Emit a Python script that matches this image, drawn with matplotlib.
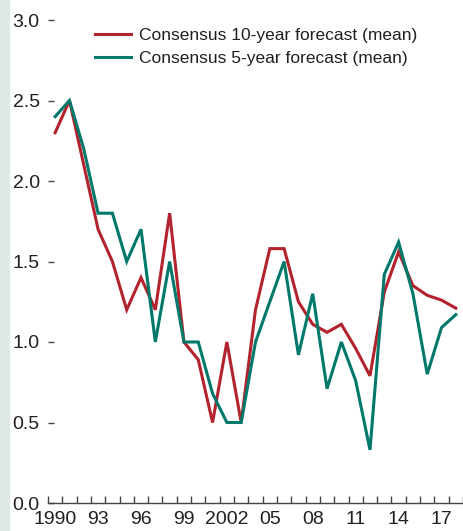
import numpy as np
import matplotlib.pyplot as plt
from matplotlib.patches import Rectangle

# Consensus forecasts
years = np.arange(1990, 2019)
ten_year = [2.3, 2.5, 2.1, 1.7, 1.5, 1.2, 1.4, 1.2, 1.8, 1.0,
            0.89, 0.5, 1.0, 0.5, 1.2, 1.58, 1.58, 1.25, 1.11, 1.06,
            1.11, 0.96, 0.79, 1.31, 1.56, 1.35, 1.29, 1.26, 1.21]
five_year = [2.4, 2.5, 2.2, 1.8, 1.8, 1.5, 1.7, 1.0, 1.5, 1.0,
             1.0, 0.68, 0.5, 0.5, 1.0, 1.25, 1.5, 0.92, 1.3, 0.71,
             1.0, 0.76, 0.33, 1.42, 1.62, 1.3, 0.8, 1.09, 1.17]
label_years = [1990, 1993, 1996, 1999, 2002, 2005, 2008, 2011, 2014, 2017]
label_text = ["1990", "93", "96", "99", "2002", "05", "08", "11", "14", "17"]
y_ticks = [0.0, 0.5, 1.0, 1.5, 2.0, 2.5, 3.0]

red = "#b3232d"
green = "#00786a"
ink = "#231f20"

plt.rcParams["font.family"] = ["Liberation Sans Narrow", "Liberation Sans", "DejaVu Sans"]

W, H = 463, 531
fig = plt.figure(figsize=(W / 100, H / 100), dpi=100)
fig.patches.append(Rectangle((0, 0), 9 / W, 1, transform=fig.transFigure,
                             color="#dfe9e8", zorder=0))
ax = fig.add_axes([48 / W, 28 / H, (W - 48) / W + 0.01, 483 / H])
ax.patch.set_alpha(0)

ax.plot(years, ten_year, color=red, lw=2.2, label="Consensus 10-year forecast (mean)",
        solid_joinstyle="miter")
ax.plot(years, five_year, color=green, lw=2.2, label="Consensus 5-year forecast (mean)",
        solid_joinstyle="miter")

ax.set_xlim(1989.5, 2018.5 + 0.01 * 29 / ((W - 48) / W))
ax.set_ylim(0, 3.0)

for s in ["top", "right", "left"]:
    ax.spines[s].set_visible(False)
ax.spines["bottom"].set_color("#444444")
ax.spines["bottom"].set_linewidth(1.0)

ax.set_yticks(y_ticks)
ax.set_yticklabels([f"{v:.1f}" for v in y_ticks])
ax.tick_params(axis="y", direction="in", length=4.5, width=1.0, color="#444444",
               pad=6, labelsize=14, labelcolor=ink)

ax.set_xticks(label_years)
ax.set_xticklabels(label_text)
ax.set_xticks(np.arange(1989.5, 2019, 1), minor=True)
ax.tick_params(axis="x", which="major", length=0, pad=5.5, labelsize=14, labelcolor=ink)
ax.tick_params(axis="x", which="minor", direction="in", length=5, width=1.0,
               color="#444444")

ax.legend(loc="upper left", bbox_to_anchor=(95 / W, 1 - 28 / H),
          bbox_transform=fig.transFigure, frameon=False, fontsize=12.5,
          handlelength=2.1, handletextpad=0.45, labelspacing=0.45,
          borderpad=0, borderaxespad=0, labelcolor=ink)

fig.savefig("out.png", dpi=100)
